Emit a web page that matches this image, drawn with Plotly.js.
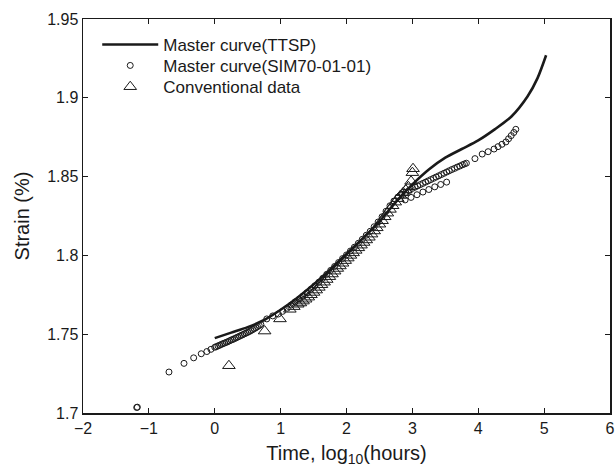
<!DOCTYPE html>
<html>
<head>
<meta charset="utf-8">
<script src="https://cdn.plot.ly/plotly-3.0.1.min.js"></script>
<style>html,body{margin:0;padding:0;background:#fff;}#chart{width:616px;height:471px;}</style>
</head>
<body>
<div id="chart"></div>
<script>
// Master curve (TTSP) line
const ttspX = [0.0, 0.25, 0.5, 0.75, 1.0, 1.25, 1.5, 1.75, 2.0, 2.25, 2.5, 2.75, 3.0, 3.25, 3.5, 3.75, 4.0, 4.25, 4.5, 4.75, 4.9, 5.03];
const ttspY = [1.7475, 1.751, 1.7545, 1.759, 1.7655, 1.773, 1.7815, 1.791, 1.801, 1.811, 1.8215, 1.834, 1.845, 1.8545, 1.862, 1.8675, 1.873, 1.880, 1.888, 1.901, 1.9125, 1.927];

// Master curve (SIM70-01-01) circles
const simX = [-1.185, -1.175, -0.695, -0.467, -0.32, -0.205, -0.12, -0.058,
  0.0, 0.025, 0.05, 0.075, 0.1, 0.125, 0.15, 0.175, 0.2, 0.225, 0.25, 0.275, 0.3, 0.325, 0.35, 0.375, 0.4, 0.425, 0.45, 0.475, 0.5, 0.525, 0.55, 0.575, 0.6, 0.625, 0.65, 0.675, 0.7,
  0.79, 0.88, 0.965, 1.03, 1.1, 1.16, 1.22, 1.28, 1.34, 1.4, 1.46, 1.52, 1.58, 1.64, 1.7, 1.76, 1.82, 1.88, 1.94,
  2.0, 2.06, 2.12, 2.18, 2.24, 2.3, 2.36, 2.42, 2.48, 2.54, 2.6, 2.66, 2.72, 2.78, 2.84, 2.9, 2.95,
  3.0, 3.04, 3.08, 3.12, 3.16, 3.2, 3.24, 3.28, 3.32, 3.36, 3.4, 3.44, 3.48, 3.52, 3.56, 3.6, 3.64, 3.68, 3.72, 3.76, 3.79, 3.82,
  2.89, 2.98, 3.07, 3.16, 3.25, 3.34, 3.43, 3.52,
  3.95, 4.06, 4.15, 4.24, 4.30, 4.36, 4.42, 4.46, 4.50, 4.54, 4.57];
const simY = [1.7035, 1.7037, 1.726, 1.7315, 1.735, 1.7376, 1.739, 1.7404,
  1.7417, 1.7421, 1.7426, 1.743, 1.7435, 1.744, 1.7444, 1.7448, 1.7453, 1.7458, 1.7463, 1.7467, 1.7472, 1.7477, 1.7482, 1.7487, 1.7492, 1.7497, 1.7502, 1.7507, 1.7512, 1.7517, 1.7523, 1.7529, 1.7535, 1.7541, 1.7548, 1.7555, 1.7562,
  1.7597, 1.7616, 1.7628, 1.7645, 1.7665, 1.7685, 1.7705, 1.7722, 1.7742, 1.7763, 1.7785, 1.7807, 1.783, 1.7855, 1.788, 1.7905, 1.793, 1.7955, 1.798,
  1.8003, 1.8028, 1.8052, 1.8077, 1.8102, 1.8128, 1.8153, 1.8182, 1.8212, 1.8245, 1.828, 1.8315, 1.8345, 1.837, 1.8388, 1.840, 1.8412,
  1.8425, 1.8433, 1.8441, 1.8449, 1.8457, 1.8465, 1.8473, 1.8481, 1.8489, 1.8497, 1.8505, 1.8513, 1.8521, 1.8529, 1.8537, 1.8545, 1.8552, 1.856, 1.8567, 1.8575, 1.858, 1.8585,
  1.8352, 1.8368, 1.8385, 1.8402, 1.8418, 1.8435, 1.845, 1.8465,
  1.8614, 1.8643, 1.8658, 1.8675, 1.869, 1.8705, 1.872, 1.874, 1.876, 1.878, 1.880];

// Conventional data triangles
const convX = [0.215, 0.757, 0.99, 1.14, 1.2, 1.26, 1.3, 1.34, 1.38, 1.42, 1.46, 1.5, 1.54, 1.58, 1.62, 1.66, 1.7, 1.74, 1.78, 1.82, 1.86, 1.9, 1.94, 1.98, 2.02, 2.06, 2.1, 2.14, 2.18, 2.22, 2.26, 2.3, 2.34, 2.38, 2.42, 2.46, 2.5, 2.54, 2.58, 2.62, 2.66, 2.7, 2.74, 2.78, 2.82, 2.86, 2.9, 2.94, 2.98, 3.0, 3.01];
const convY = [1.730, 1.752, 1.7597, 1.7658, 1.7675, 1.769, 1.7698, 1.771, 1.7722, 1.7735, 1.775, 1.7765, 1.778, 1.7797, 1.7814, 1.783, 1.7847, 1.7865, 1.7882, 1.79, 1.7917, 1.7933, 1.795, 1.7967, 1.7983, 1.8, 1.8016, 1.8032, 1.8048, 1.8065, 1.8082, 1.8098, 1.8115, 1.8135, 1.8155, 1.8175, 1.8198, 1.822, 1.8245, 1.8268, 1.8292, 1.8315, 1.8338, 1.836, 1.838, 1.8398, 1.8415, 1.8435, 1.847, 1.8525, 1.855];

const seriesNames = ['Master curve(TTSP)', 'Master curve(SIM70-01-01)', 'Conventional data'];

const ink = '#1a1a1a';
const traces = [
  {x: ttspX, y: ttspY, name: seriesNames[0], type: 'scatter', mode: 'lines', legend: 'legend',
   line: {color: ink, width: 2.6, shape: 'spline', smoothing: 0.8}},
  {x: simX, y: simY, name: seriesNames[1], type: 'scatter', mode: 'markers', legend: 'legend2',
   marker: {symbol: 'circle-open', size: 6, color: ink, line: {width: 1, color: ink}}},
  {x: convX, y: convY, name: seriesNames[2], type: 'scatter', mode: 'markers', legend: 'legend3',
   marker: {symbol: 'triangle-up-open', size: 11, color: ink, line: {width: 1, color: ink}}}
];

const fontFam = 'Liberation Sans, Arial, sans-serif';
const axisCommon = {
  showgrid: false, zeroline: false, showline: true, linecolor: ink, linewidth: 1.5,
  mirror: 'ticks', ticks: 'inside', ticklen: 5, tickwidth: 1.2, tickcolor: ink,
  tickfont: {family: fontFam, size: 16, color: ink}
};

function legendAt(y) {
  return {x: 0.027, y: y, xanchor: 'left', yanchor: 'middle', bgcolor: 'rgba(0,0,0,0)',
          font: {family: fontFam, size: 17, color: ink}, itemwidth: 56};
}

const layout = {
  width: 616, height: 471,
  margin: {l: 83, r: 6, t: 19, b: 58},
  paper_bgcolor: '#fff', plot_bgcolor: '#fff',
  font: {family: fontFam, color: ink},
  showlegend: true,
  legend: legendAt(0.934),
  legend2: legendAt(0.881),
  legend3: legendAt(0.827),
  xaxis: Object.assign({}, axisCommon, {
    range: [-2, 6], dtick: 1, tick0: 0,
    title: {text: 'Time, log<sub>10</sub>(hours)', font: {family: fontFam, size: 20, color: ink}, standoff: 10}
  }),
  yaxis: Object.assign({}, axisCommon, {
    range: [1.7, 1.95], dtick: 0.05, tick0: 1.7,
    title: {text: 'Strain (%)', font: {family: fontFam, size: 20, color: ink}, standoff: 12}
  })
};

Plotly.newPlot('chart', traces, layout, {staticPlot: true, displayModeBar: false});
</script>
</body>
</html>
